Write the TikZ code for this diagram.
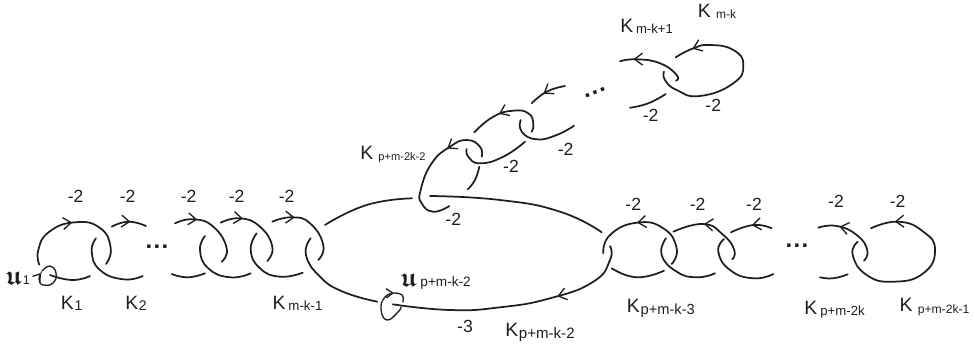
\documentclass[tikz,border=0pt]{standalone}
\usepackage{amsmath, amssymb}
\usepackage{fontspec}
\setmainfont{Liberation Sans}
\usetikzlibrary{arrows.meta, decorations.markings}
\definecolor{inkgray}{RGB}{30, 30, 30}
\newcommand{\Ksub}[3]{K\hspace{#1pt}\raisebox{-1.2pt}{\fontsize{#2}{#2}\selectfont #3}}
\newcommand{\Uletter}{{\fontsize{20}{20}\selectfont$\boldsymbol{\mathfrak{u}}$}}
\newcommand{\Gapdots}{.\kern1pt.\kern1pt.}
\tikzset{
  strand/.style={inkgray, line width=1.3pt, line cap=round, smooth, tension=0.85},
  loopline/.style={inkgray, line width=1pt, line cap=round, smooth, tension=0.85, -{Straight Barb[length=5pt, width=7pt]}},
  midarrow/.style={postaction={decorate}, decoration={markings,
    mark=at position #1 with {\arrow{Straight Barb[length=6pt, width=9pt, line width=1pt]}}}},
  framing/.style={font=\fontsize{13.2}{13.2}\selectfont, anchor=base, inner sep=0pt, text=inkgray},
  klabel/.style={font=\fontsize{14.5}{14.5}\selectfont, anchor=base west, inner sep=0pt, text=inkgray},
  ulabel/.style={anchor=base west, inner sep=0pt, text=inkgray},
  gapdots/.style={font=\fontsize{18}{18}\selectfont\bfseries, inner sep=0pt, text=inkgray},
}
\begin{document}
\begin{tikzpicture}[x=0.75pt, y=-0.75pt]
  \useasboundingbox (0,0) rectangle (975,347);

  % left chain
  \draw[strand, midarrow=0.47] plot coordinates {(39.3,264.7) (38.3,250) (49,232) (75,222.3) (100,228) (110.7,248) (106,264)};
  \draw[strand] plot coordinates {(50,275) (72,280) (90,276)};
  \draw[strand] plot coordinates {(96,238.3) (91.7,251.7) (100,270) (123,279.3) (142.7,276)};
  \draw[strand, midarrow=0.55] plot coordinates {(111.7,226.7) (128.3,221.7) (146,226)};
  \draw[strand] plot coordinates {(171.7,274) (188,277.3) (205,273.3)};
  \draw[strand, midarrow=0.28] plot coordinates {(175,223.3) (193.3,219.3) (213.3,226.7) (226.7,248.3) (221.7,261.7)};
  \draw[strand] plot coordinates {(205,236) (200,250) (208.3,268.3) (230,277.3) (250.7,273.3)};
  \draw[strand, midarrow=0.28] plot coordinates {(220.7,222.7) (240,218.3) (260,226.7) (272.3,246.7) (267.3,261)};
  \draw[strand] plot coordinates {(256.7,233.3) (250.7,250) (260,268.3) (280,276.7) (302.7,272.7)};
  \draw[strand, midarrow=0.28] plot coordinates {(272.3,221.7) (291.7,217.3) (310,223.3) (323.3,245) (318.3,260)};

  % big circle K_{p+m-k-2} and its neighbours
  \draw[strand] plot coordinates {(310.7,238.3) (306,255) (320,276.7) (343,291.7) (377.3,301.7)};
  \draw[strand] plot coordinates {(325,225) (366.7,205) (412,198.3)};
  \draw[strand] plot coordinates {(430,196) (500,200) (560,211.7) (601.7,232.3)};
  \draw[strand, midarrow=0.33] plot coordinates {(610,246) (610,260) (593.3,281.7) (550,298.3) (500,307.3) (450,310) (392.7,304.3)};

  % right chain
  \draw[strand, midarrow=0.58] plot coordinates {(671.7,264) (676.7,248.3) (663.3,228.3) (636.7,222.7) (610,235) (603.3,253.3)};
  \draw[strand] plot coordinates {(611.7,268.3) (636.7,277.3) (664,270.7)};
  \draw[strand] plot coordinates {(666,238.3) (661.7,255) (676.7,271.7) (696.7,277.3) (715,273.3)};
  \draw[strand, midarrow=0.62] plot coordinates {(732.3,259.3) (734.3,250) (723.3,235) (703.3,224) (673.3,231.7)};
  \draw[strand] plot coordinates {(724,239) (718.3,251.7) (730,270) (753.3,278.3) (773.3,274)};
  \draw[strand, midarrow=0.48] plot coordinates {(771.7,228.3) (753.3,225) (731,232.3)};
  \draw[strand] plot coordinates {(820,277.3) (833.3,278.3) (847.7,274.3)};
  \draw[strand, midarrow=0.7] plot coordinates {(864,260.7) (867.3,250) (856.7,235) (836.7,226) (818.3,227.7)};
  \draw[strand, midarrow=0.88] plot coordinates {(857.7,241.7) (852.7,255) (866.7,275) (893.3,281.7) (923.3,273.3) (935,250) (923.3,231.7) (898.3,221.7) (871,228.3)};

  % upper chain
  \draw[strand, midarrow=0.33] plot coordinates {(481.7,156.7) (480,146.7) (466.7,140) (450,146.7) (431.7,163.3) (420.7,190) (421.7,203.3) (433.3,211.7) (449.3,206)};
  \draw[strand] plot coordinates {(479.3,166.7) (475,180) (467.7,189.3)};
  \draw[strand] plot coordinates {(466.7,149) (468.3,156.7) (480,163.3) (503.3,156.7) (525,141.7)};
  \draw[strand, midarrow=0.62] plot coordinates {(531.7,131.7) (533.3,123.3) (528.3,113.3) (513.3,110.7) (493.3,116.7) (474.3,132.3)};
  \draw[strand] plot coordinates {(520.7,120) (521.7,131.7) (536.7,139.3) (556.7,135) (574,125.7)};
  \draw[strand, midarrow=0.6] plot coordinates {(565,86) (546.7,91.7) (531.7,103.3)};
  \draw[strand] plot coordinates {(630,107.7) (648.3,103.3) (665.7,94)};
  \draw[strand, midarrow=0.8] plot coordinates {(676,80.7) (676.7,75) (660,63.3) (636.7,59.3) (620,61.3)};
  \draw[strand, midarrow=0.9] plot coordinates {(664,71.7) (665,80) (676.7,90) (700,96) (733.3,83.3) (743.3,65) (733.3,50) (710,45) (693.3,48.3) (675.7,57.3)};

  % small meridian loops
  \draw[loopline] plot coordinates {(42,271) (50,266) (56,273) (53,283) (43,285) (39,279) (41,273)};
  \draw[loopline] plot coordinates {(401,307) (398,312) (387,320) (381,309) (385,297) (394,293)};
  \draw[strand, line width=1pt] plot coordinates {(394,293) (402,295) (403,302)};

  % dots
  \node[gapdots] (dotsa) at (157,247) {\Gapdots};
  \node[gapdots] (dotsb) at (797,246) {\Gapdots};
  \node[gapdots, rotate=21] (dotsc) at (595,93) {\Gapdots};

  % framing numbers
  \foreach \lx/\ly [count=\i] in {75.7/202.7, 127.7/202.7, 188.7/202.7, 236.7/202.7, 286.7/202.7,
      633.3/210, 697.7/210, 754/210, 836/207.3, 897.7/207,
      650.7/121.7, 713.3/111.7, 565.7/155, 511/172.7, 453.3/225.5}
    \node[framing] (frame\i) at (\lx,\ly) {-2};
  \node[framing] (framebig) at (465,332.3) {-3};

  % knot names
  \node[klabel] (kone) at (60.7,309.3) {\Ksub{0.6}{10.5}{1}};
  \node[klabel] (ktwo) at (125,309.3) {\Ksub{0.6}{10.5}{2}};
  \node[klabel] (kmka) at (272.3,309) {\Ksub{2.2}{10}{m-k-1}};
  \node[klabel] (kbig) at (505,336.7) {\Ksub{0.6}{11.3}{p+m-k-2}};
  \node[klabel] (kpa) at (626.7,312.7) {\Ksub{0.6}{11}{p+m-k-3}};
  \node[klabel] (kpb) at (804,314) {\Ksub{2.4}{9.9}{p+m-2k}};
  \node[klabel] (kpc) at (899.3,311.7) {\Ksub{4}{9.1}{p+m-2k-1}};
  \node[klabel] (kmk) at (697.7,17.3) {\Ksub{4}{9}{m-k}};
  \node[klabel] (kmkb) at (620,32.3) {\Ksub{2.2}{9.8}{m-k+1}};
  \node[klabel] (kpd) at (360,159) {\Ksub{4}{8.3}{p+m-2k-2}};

  % meridian names
  \node[ulabel] (uone) at (5.5,284) {\Uletter\hspace{1pt}{\fontsize{9.5}{9.5}\selectfont 1}};
  \node[ulabel] (ubig) at (400.5,286) {\Uletter\hspace{3pt}{\fontsize{10.2}{10.2}\selectfont p+m-k-2}};
\end{tikzpicture}
\end{document}
